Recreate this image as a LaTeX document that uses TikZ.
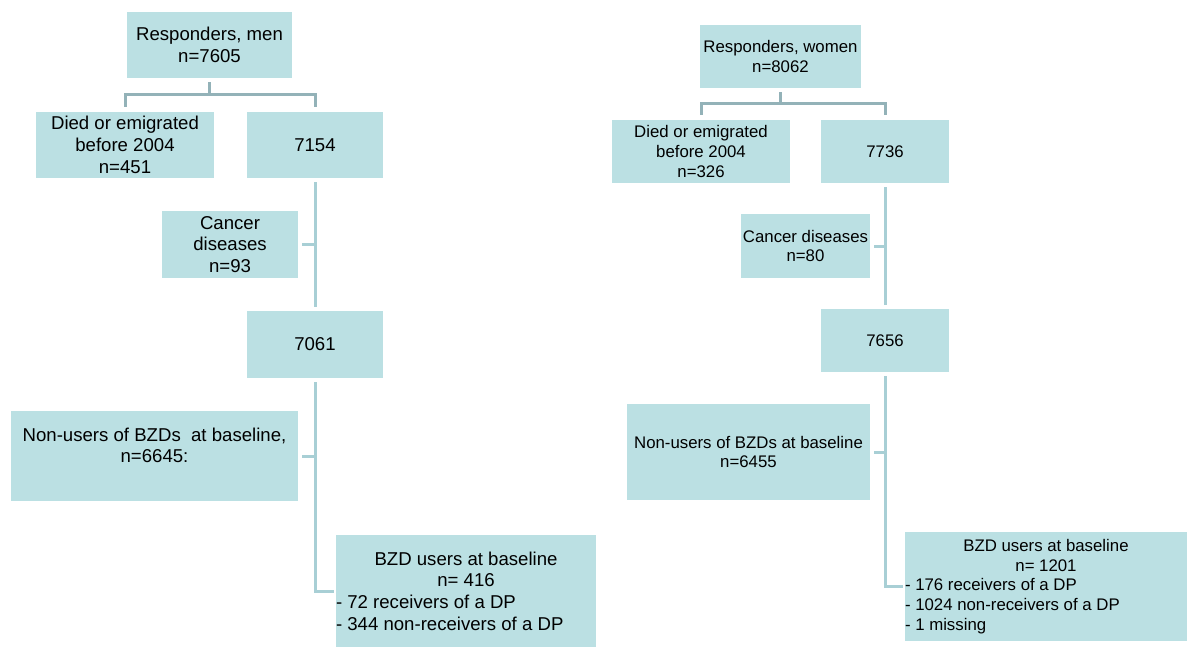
\documentclass[tikz,border=0pt]{standalone}
\usepackage{fontspec}
\setmainfont{Liberation Sans}
\usepackage{tikz}
\usetikzlibrary{positioning,calc}
\definecolor{boxfill}{RGB}{187,224,227}
\definecolor{trunkcol}{RGB}{168,207,213}
\definecolor{brkcol}{RGB}{147,178,184}
\newcommand{\menfont}{\fontsize{18.6}{21.7}\selectfont}
\newcommand{\womenfont}{\fontsize{16.8}{19.8}\selectfont}

\begin{document}
\begin{tikzpicture}[x=1pt,y=-1pt,
		box/.style={fill=boxfill,inner sep=0pt,align=center},
		trunk/.style={draw=trunkcol,line width=3pt},
		bracket/.style={draw=brkcol,line width=3pt,shorten <=4pt,shorten >=4.5pt}]
	\useasboundingbox (0,0) rectangle (1190,648);
	\begin{scope}[every node/.append style={font=\menfont}]
		\node[box,minimum width=165pt,minimum height=66pt] (respm) at (209.5,45) {Responders, men\\n=7605};
		\node[box,minimum width=178pt,minimum height=66pt] (diedm) at (125,145) {Died or emigrated\\before 2004\\n=451};
		\node[box,minimum width=136pt,minimum height=66pt] (n7154) at (315,145) {7154};
		\node[box,minimum width=136pt,minimum height=67pt] (cancm) at (230,244.5) {Cancer\\diseases\\n=93};
		\node[box,minimum width=136pt,minimum height=67pt] (n7061) at (315,344.5) {7061};
		\node[box,minimum width=287pt,minimum height=90pt] (nonm) at (154.5,456) {Non-users of BZDs~ at baseline,\\n=6645:\\\mbox{}};
		\node[box,minimum width=260pt,minimum height=112pt] (bzdm) at (466,591) {\parbox{260pt}{\centering BZD users at baseline\\ n= 416\par\raggedright - 72 receivers of a DP\\ - 344 non-receivers of a DP}};
	\end{scope}
	\begin{scope}[every node/.append style={font=\womenfont}]
		\node[box,minimum width=161pt,minimum height=63pt] (respw) at (780.5,56.5) {Responders, women\\n=8062};
		\node[box,minimum width=178pt,minimum height=63pt] (diedw) at (701,151.5) {Died or emigrated\\before 2004\\n=326};
		\node[box,minimum width=128pt,minimum height=63pt] (n7736) at (885,151.5) {7736};
		\node[box,minimum width=129pt,minimum height=64pt] (cancw) at (805.5,246) {Cancer diseases\\n=80};
		\node[box,minimum width=128pt,minimum height=63pt] (n7656) at (885,340.5) {7656};
		\node[box,minimum width=243pt,minimum height=96pt] (nonw) at (748.5,452) {Non-users of BZDs at baseline\\n=6455};
		\node[box,minimum width=282pt,minimum height=109pt] (bzdw) at (1046,586.5) {\parbox{282pt}{\centering BZD users at baseline\\ n= 1201\par\raggedright - 176 receivers of a DP\\ - 1024 non-receivers of a DP\\ - 1 missing}};
	\end{scope}

	\draw[bracket] (respm.south) -- ++(0,16.5) -| (diedm.north);
	\draw[bracket] (respm.south) -- ++(0,16.5) -| (n7154.north);
	\draw[trunk,shorten <=4pt,shorten >=4pt] (n7154) -- (n7061);
	\draw[trunk,shorten <=4pt] (cancm.east) -- (cancm.east -| n7154);
	\draw[trunk,shorten <=4pt] (nonm.east) -- (nonm.east -| n7061);
	\draw[trunk,shorten <=4pt,shorten >=2pt] (n7061) |- (bzdm.west);

	\draw[bracket] (respw.south) -- ++(0,15.5) -| (diedw.north);
	\draw[bracket] (respw.south) -- ++(0,15.5) -| (n7736.north);
	\draw[trunk,shorten <=4pt,shorten >=4pt] (n7736) -- (n7656);
	\draw[trunk,shorten <=4pt] (cancw.east) -- (cancw.east -| n7736);
	\draw[trunk,shorten <=4pt] (nonw.east) -- (nonw.east -| n7656);
	\draw[trunk,shorten <=4pt,shorten >=2pt] (n7656) |- (bzdw.west);
\end{tikzpicture}
\end{document}
